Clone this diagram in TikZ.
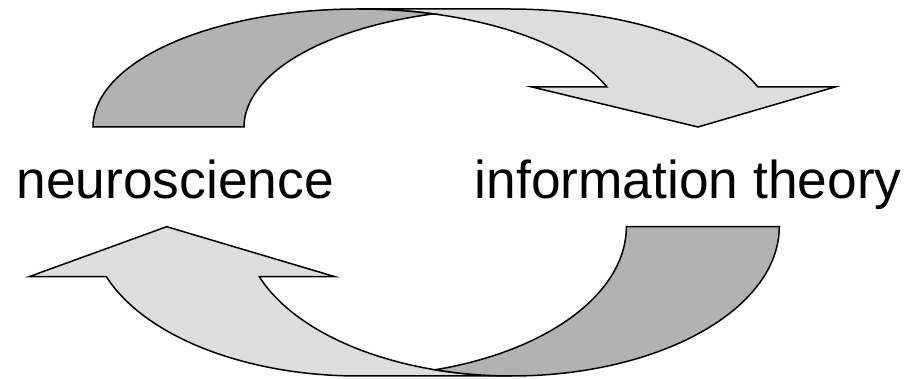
\documentclass[tikz,border=0pt]{standalone}
\usepackage{fontspec}
\setmainfont{Liberation Sans}
\definecolor{frontgray}{RGB}{221,221,221}
\definecolor{backgray}{RGB}{178,178,178}
\begin{document}
\begin{tikzpicture}[x=1pt,y=1pt]
\tikzset{
  outline/.style={draw=black, line width=1.5pt},
  frontband/.style={outline, fill=frontgray},
  backband/.style={outline, fill=backgray},
  termtext/.style={font=\fontsize{53.3}{64}\selectfont, inner sep=0pt, anchor=base west}
}
\useasboundingbox (0,0) rectangle (908,379);

% upper curved arrow: head pointing down on the right
\path[frontband] (698,252) -- (532,292) -- (606.9,292)
  arc[start angle=19.82, end angle=90, x radius=264.8pt, y radius=118pt]
  -- (508.8,370)
  arc[start angle=90, end angle=19.82, x radius=264.8pt, y radius=118pt]
  -- (835,292) -- cycle;
\path[backband] (93,252)
  arc[start angle=180, end angle=73.43, x radius=264.8pt, y radius=118pt]
  arc[start angle=106.57, end angle=180, x radius=264.8pt, y radius=118pt]
  -- cycle;

% lower curved arrow: head pointing up on the left
\path[frontband] (166.7,152.3) -- (335,102.3) -- (259.3,102.3)
  arc[start angle=199.57, end angle=270, x radius=267.7pt, y radius=149.3pt]
  -- (358.6,3)
  arc[start angle=270, end angle=199.57, x radius=267.7pt, y radius=149.3pt]
  -- (29,102.3) -- cycle;
\path[backband] (779.3,152.3)
  arc[start angle=0, end angle=-106.6, x radius=267.7pt, y radius=149.3pt]
  arc[start angle=-73.4, end angle=0, x radius=267.7pt, y radius=149.3pt]
  -- cycle;

% the two fields
\node[termtext] (neuro) at (16.5,180.7) {neuroscience};
\node[termtext] (info) at (474.7,180.7) {information theory};
\end{tikzpicture}
\end{document}
